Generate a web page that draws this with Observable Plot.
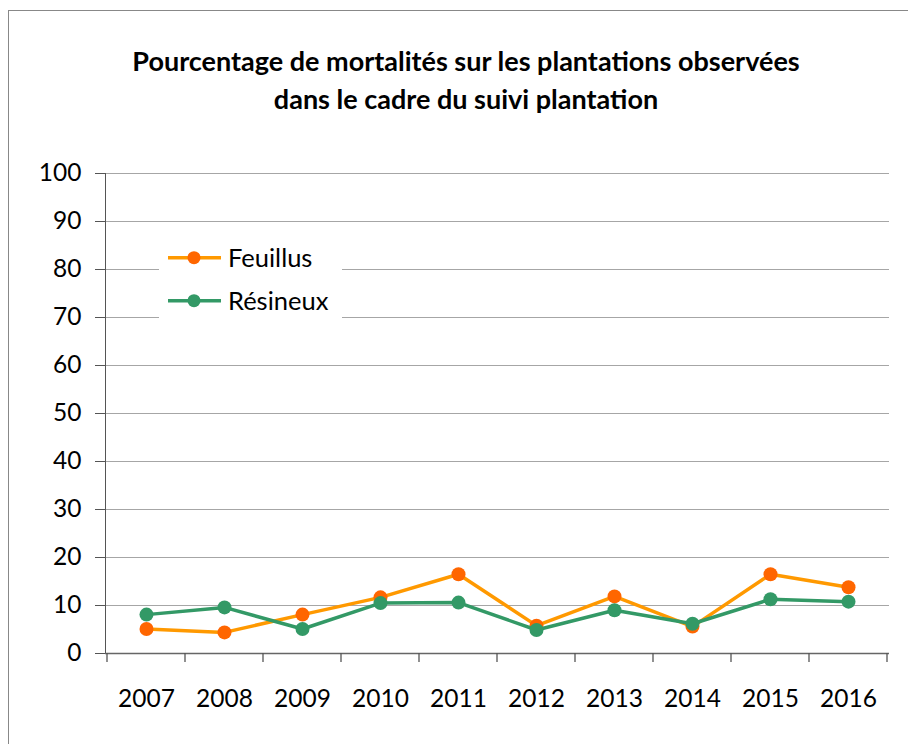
<!DOCTYPE html>
<html><head><meta charset="utf-8">
<script src="https://cdn.jsdelivr.net/npm/d3@7"></script>
<script src="https://cdn.jsdelivr.net/npm/@observablehq/plot@0.6"></script>
<style>
body{margin:0;background:#fff;}
#wrap{position:relative;width:908px;height:744px;overflow:hidden;font-family:Lato,"Open Sans",sans-serif;}
#frame{position:absolute;left:8px;top:10px;width:1000px;height:1000px;border-left:1.5px solid #888;border-top:1.5px solid #888;}
#title{position:absolute;left:8px;width:916px;top:42px;text-align:center;font-weight:bold;font-size:27px;line-height:38px;color:#000;}
#chart{position:absolute;left:0;top:140px;}
</style></head>
<body>
<div id="wrap">
  <div id="frame"></div>
  <div id="title">Pourcentage de mortalités sur les plantations observées<br>dans le cadre du suivi plantation</div>
  <div id="chart"></div>
</div>
<script>
const years = ["2007","2008","2009","2010","2011","2012","2013","2014","2015","2016"];
const feuillus = [5.1, 4.4, 8.1, 11.7, 16.5, 5.8, 11.9, 5.6, 16.5, 13.8];
const resineux = [8.1, 9.6, 5.1, 10.5, 10.6, 4.9, 9.0, 6.2, 11.3, 10.8];
const yTicks = [0, 10, 20, 30, 40, 50, 60, 70, 80, 90, 100];
const seriesNames = ["Feuillus", "Résineux"];
const lineColors = ["#FF9900", "#339966"];
const dotColors = ["#FF6600", "#339966"];

const fData = years.map((y, i) => ({year: y, value: feuillus[i]}));
const rData = years.map((y, i) => ({year: y, value: resineux[i]}));

const plot = Plot.plot({
  width: 908,
  height: 604,
  marginTop: 33,
  marginBottom: 91,
  marginLeft: 105,
  marginRight: 19,
  style: {background: "transparent", fontFamily: "Lato, 'Open Sans', sans-serif", fontSize: "24.5px", color: "#000"},
  x: {type: "band", domain: years, padding: 0, label: null, axis: null},
  y: {domain: [0, 100], label: null, axis: null},
  marks: [
    Plot.gridY(yTicks, {stroke: "#a6a6a6", strokeOpacity: 1}),
    Plot.axisY(yTicks, {tickSize: 10, tickPadding: 14, stroke: "#555", fill: "#000", fontSize: 24.5, label: null}),
    Plot.axisX(years, {tickSize: 0, tickPadding: 36, fill: "#000", fontSize: 24.5, label: null}),
    Plot.frame({anchor: "left", stroke: "#555"}),
    Plot.ruleY([0], {stroke: "#666", strokeWidth: 1.3}),
    Plot.line(fData, {x: "year", y: "value", stroke: lineColors[0], strokeWidth: 3.5}),
    Plot.dot(fData, {x: "year", y: "value", r: 7, fill: dotColors[0]}),
    Plot.line(rData, {x: "year", y: "value", stroke: lineColors[1], strokeWidth: 3.5}),
    Plot.dot(rData, {x: "year", y: "value", r: 7, fill: dotColors[1]})
  ]
});
document.getElementById("chart").appendChild(plot);

// boundary ticks on the x axis derived from the band scale
const sx = plot.scale("x");
const sy = plot.scale("y");
const svg = d3.select(plot);
const y0 = sy.apply(0);
const bounds = years.map(v => sx.apply(v)).concat([sx.apply(years[years.length - 1]) + sx.bandwidth]);
svg.append("g").selectAll("line").data(bounds).join("line")
  .attr("x1", d => d).attr("x2", d => d)
  .attr("y1", y0).attr("y2", y0 + 9)
  .attr("stroke", "#555").attr("stroke-width", 1.3);

// legend
const lg = svg.append("g").attr("text-anchor", "start");
lg.append("rect").attr("x", 159).attr("y", 98).attr("width", 183).attr("height", 92).attr("fill", "#fff");
seriesNames.forEach((name, i) => {
  const cy = 117.7 + i * 43;
  lg.append("line").attr("x1", 168).attr("x2", 221).attr("y1", cy).attr("y2", cy)
    .attr("stroke", lineColors[i]).attr("stroke-width", 3.5);
  lg.append("circle").attr("cx", 194).attr("cy", cy).attr("r", 6.5).attr("fill", dotColors[i]);
  lg.append("text").attr("x", 228).attr("y", cy).attr("dy", "0.35em")
    .attr("text-anchor", "start")
    .attr("font-size", 25.5).attr("fill", "#000").text(name);
});
</script>
</body></html>
